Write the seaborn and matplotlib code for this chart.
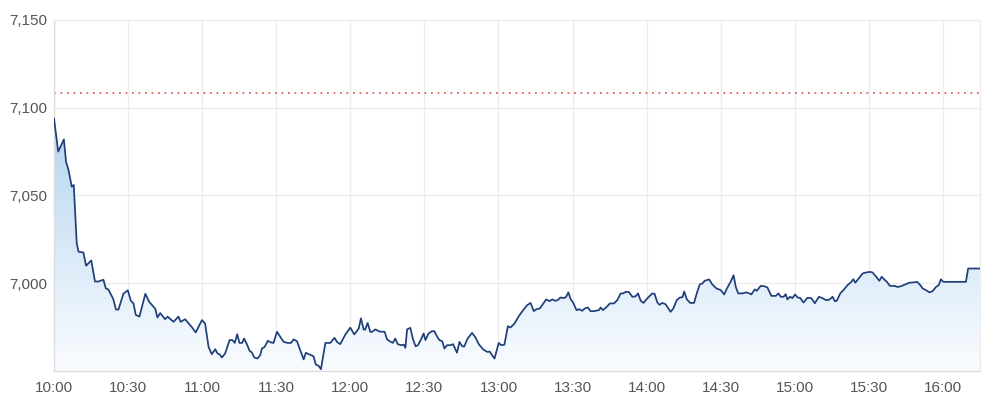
import numpy as np
import pandas as pd
import matplotlib
matplotlib.use("Agg")
import matplotlib.pyplot as plt
import seaborn as sns
from matplotlib.ticker import FuncFormatter

# ---- data (minutes after 10:00, index level) ----
minutes_after_open = [
    0, 1.7, 4, 4.9, 5.8, 7.2, 8, 9.2, 9.9, 11.9, 13, 15.1, 16.6, 18, 20, 21, 22, 24, 25.1, 26.1,
    28.1, 29.9, 31.1, 32.2, 33.1, 34.6, 37, 38.5, 41, 41.9, 43, 45, 46, 48.4, 50.4, 51.3, 53.1,
    55.8, 57.4, 59.9, 61.2, 62.6, 63.9, 65.3, 66.2, 67, 68, 69.3, 71.1, 72.3, 73.2, 74.2, 75.1,
    76.2, 77, 78.1, 79.2, 80.1, 81.1, 82.4, 83.5, 84.2, 85.3, 86.6, 88, 88.9, 90.3, 91.6, 93,
    94.6, 96, 97, 98.4, 99.7, 101.1, 102, 103.1, 105.1, 106, 107.2, 108.1, 109.9, 111.9, 113.6,
    114.6, 115.9, 118, 120, 121.6, 123.4, 124.3, 125.4, 126, 127, 128.1, 128.8, 130.1, 131.8,
    133.9, 134.9, 135.9, 137.2, 138.2, 139.2, 140.6, 141.7, 142.3, 143, 144.3, 145.3, 146.4,
    147.4, 148.8, 149.7, 150.4, 151.7, 153.1, 154, 155.2, 156.1, 157.2, 158.1, 159.2, 160.5,
    161.6, 163.2, 164.2, 165.3, 166.1, 167.5, 169.3, 170.7, 172, 173.8, 175.4, 176.5, 177.4,
    178.4, 180.1, 181.1, 182.4, 183.8, 184.9, 186.5, 188.2, 190, 191.6, 193, 194.3, 195.3,
    196.7, 197.7, 199.3, 200.7, 201.8, 202.9, 204, 205.1, 206.5, 207.4, 208.3, 209.2, 210.3,
    211.6, 212.8, 213.9, 214.9, 216.2, 217.3, 218.6, 220.7, 221.4, 222.3, 223.8, 225.1, 226.8,
    228.1, 229.5, 230.5, 231.5, 232.8, 234.2, 235.5, 236.5, 237.6, 238.7, 239.9, 240.9, 242.3,
    243.2, 244.3, 245.2, 246.3, 247.7, 249.7, 250.8, 252.2, 253.5, 254.5, 255.2, 256.3, 257.6,
    259.2, 260.3, 261.5, 262.6, 263.5, 265.3, 266.6, 268.3, 270, 271.4, 272.5, 274, 275.2,
    276.1, 277.1, 278.8, 280.4, 281.6, 282.4, 283.8, 284.6, 286.2, 287.6, 288.9, 290.5, 292.3,
    293.4, 294.3, 295.5, 296.3, 297, 298.1, 299, 300.1, 301.1, 302.2, 303.5, 305.1, 306.7,
    308.1, 309.8, 311.2, 312.6, 313.9, 315.3, 316.2, 317, 318.4, 319.7, 321.4, 322.7, 323.7,
    324.5, 326.1, 327.5, 328.8, 330.5, 331.5, 332.8, 334.2, 335.2, 336.2, 337.3, 338.5, 340.3,
    341.6, 343, 345, 346.4, 347.7, 349.5, 350.8, 351.8, 353.1, 354.5, 355.8, 357.2, 358.3,
    359.2, 360.1, 369.3, 370.2, 375,
]
index_level = [
    7094, 7075, 7082, 7069, 7065, 7055, 7056, 7023, 7018, 7017.5, 7010, 7013, 7001, 7001, 7002,
    6997, 6996.5, 6991, 6985, 6985, 6994, 6996, 6990, 6988.5, 6982, 6981, 6994, 6989.5, 6985.5,
    6980.5, 6983, 6979.5, 6981, 6978, 6981, 6978, 6979.5, 6975, 6972, 6979, 6977, 6963.7,
    6959.6, 6962.4, 6960, 6959.6, 6957.7, 6960, 6967.6, 6967.6, 6966, 6971, 6966, 6966, 6968.5,
    6965.3, 6961.5, 6960.6, 6957.7, 6957.1, 6959, 6962.8, 6963.7, 6967.2, 6966.2, 6966, 6972.3,
    6969.5, 6966.6, 6966, 6966, 6968, 6967, 6961.9, 6956.6, 6960.4, 6959.6, 6958.4, 6953.7,
    6952.9, 6951, 6966, 6966, 6968.9, 6966.6, 6965.3, 6970.8, 6974.7, 6970.8, 6974.2, 6980,
    6973.7, 6973.5, 6977.4, 6972.3, 6972.3, 6973.7, 6972.5, 6972.3, 6968, 6967, 6966, 6968.5,
    6965.3, 6964.7, 6965, 6963.2, 6973.7, 6974.6, 6968.5, 6964.1, 6964.7, 6968.5, 6971.4,
    6967.6, 6971.4, 6972.7, 6972.7, 6969.5, 6967.6, 6967, 6962.8, 6964.7, 6964.7, 6965.3,
    6960.4, 6966.6, 6964.1, 6963.9, 6968.5, 6971.7, 6969.1, 6965.3, 6962.3, 6960.9, 6961,
    6959, 6957.1, 6966, 6964.7, 6965, 6975.5, 6974.8, 6977.1, 6981.2, 6984.7, 6987.5, 6988.8,
    6984.1, 6985.2, 6985.6, 6987.5, 6990.8, 6989.8, 6990.8, 6990, 6990.4, 6991.9, 6991.5,
    6992.3, 6994.8, 6991, 6988.8, 6984.7, 6985.2, 6984.3, 6985.6, 6986.2, 6984.1, 6984.1,
    6984.7, 6986.2, 6984.7, 6986.5, 6988.5, 6988.5, 6990.4, 6994.2, 6994.2, 6995.1, 6995,
    6992.3, 6992.5, 6994.2, 6990, 6988.8, 6990.8, 6992.3, 6994.2, 6994, 6989.2, 6987.7, 6988.8,
    6988, 6983.7, 6985.6, 6990.4, 6991.9, 6992, 6995.3, 6990.8, 6988.8, 6988.8, 6994.2, 6999.3,
    6999.9, 7001.4, 7002.2, 6999.3, 6997, 6996.1, 6993.6, 6997, 7000.8, 7004.6, 6997.9, 6994.2,
    6994.2, 6994.8, 6994.2, 6993.6, 6996.5, 6995.7, 6998.5, 6998.3, 6997.6, 6992.8, 6992.8,
    6994.2, 6992.3, 6992.3, 6993.8, 6990.8, 6992.3, 6991.5, 6993.6, 6991.9, 6991.6, 6989,
    6991.7, 6991.5, 6988.6, 6992.3, 6991.5, 6990.4, 6990.6, 6992.3, 6989.8, 6990, 6994.2,
    6996.1, 6999, 7000.5, 7002.3, 7000.3, 7003.1, 7005.6, 7006.1, 7006.5, 7006.1, 7004, 7001.4,
    7003.7, 7002.2, 7000.8, 6998.5, 6998.5, 6997.9, 6998.3, 6999.5, 7000.3, 7000.4, 7000.8,
    6999, 6997, 6996.1, 6994.8, 6995.5, 6997.9, 6999, 7002.3, 7000.8, 7000.8, 7008.4, 7008.4,
]
previous_close = 7108.5
x_tick_minutes = [0, 30, 60, 90, 120, 150, 180, 210, 240, 270, 300, 330, 360]
x_tick_labels = ["10:00", "10:30", "11:00", "11:30", "12:00", "12:30", "13:00",
                 "13:30", "14:00", "14:30", "15:00", "15:30", "16:00"]
y_ticks = [7000, 7050, 7100, 7150]

sns.set_style("white")
plt.rcParams["font.family"] = ["Liberation Sans", "DejaVu Sans"]

df = pd.DataFrame({"minute": minutes_after_open, "level": index_level})

fig = plt.figure(figsize=(10, 4.04), dpi=100)
ax = fig.add_axes([0.054, 0.0817, 0.926, 0.8688])

ymin, ymax = 6950, 7150
xmin, xmax = 0, 375

# gradient fill under the line
poly = ax.fill_between(df["minute"], df["level"], ymin, facecolor="none", edgecolor="none")
path = poly.get_paths()[0]
top_c = np.array([180, 213, 240]) / 255.0
bot_c = np.array([250, 252, 255]) / 255.0
n = 256
t = np.linspace(0, 1, n)[:, None]
grad = (top_c[None, :] * (1 - t) + bot_c[None, :] * t)[:, None, :]
grad_top = max(index_level)
img = ax.imshow(grad, extent=[xmin, xmax, ymin, grad_top], aspect="auto",
                origin="upper", zorder=1, interpolation="bilinear")
img.set_clip_path(path, transform=ax.transData)

sns.lineplot(data=df, x="minute", y="level", ax=ax, color="#1e3f78",
             linewidth=1.25, zorder=3)

ax.axhline(previous_close, color="#e0605a", linestyle=(0, (1, 2.6)), linewidth=1.3, zorder=2)

ax.set_xlim(xmin, xmax)
ax.set_ylim(ymin, ymax)
ax.set_xticks(x_tick_minutes)
ax.set_xticklabels(x_tick_labels)
ax.set_yticks(y_ticks)
ax.yaxis.set_major_formatter(FuncFormatter(lambda v, p: f"{int(v):,}"))
ax.set_xlabel("")
ax.set_ylabel("")
ax.grid(True, color="#ececec", linewidth=1.0, zorder=0)
ax.set_axisbelow(True)
ax.tick_params(axis="both", length=0, labelsize=11, colors="#555555")
ax.tick_params(axis="x", pad=7)
ax.tick_params(axis="y", pad=5)
for s in ["top", "right"]:
    ax.spines[s].set_color("#eeeeee")
    ax.spines[s].set_linewidth(1.0)
for s in ["left", "bottom"]:
    ax.spines[s].set_color("#dddddd")
    ax.spines[s].set_linewidth(1.0)

fig.savefig("out.png", dpi=100)
